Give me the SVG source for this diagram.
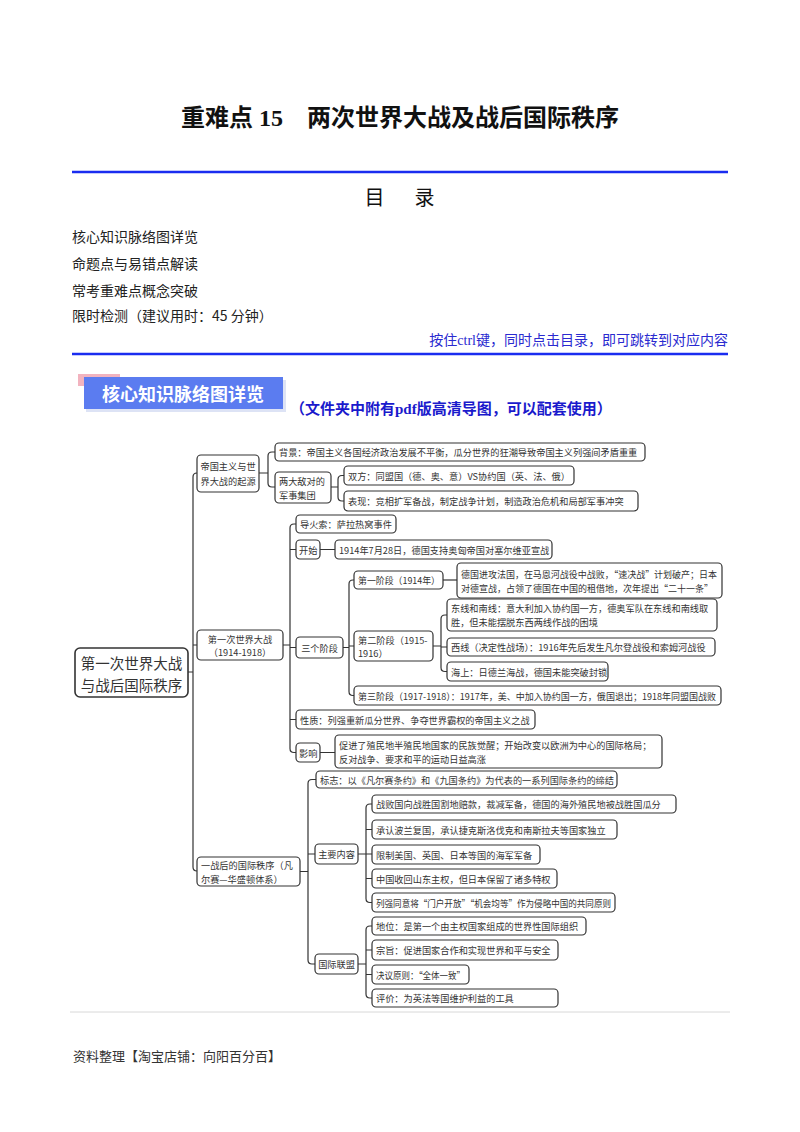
<svg xmlns="http://www.w3.org/2000/svg" width="800" height="1132" viewBox="0 0 800 1132">
<style>
.n{fill:#fff;stroke:#333;stroke-width:1.2}
.t{font-family:"Noto Sans CJK SC",sans-serif;font-size:9.2px;fill:#333;dominant-baseline:central}
.tc{text-anchor:middle}
.c{fill:none;stroke:#333;stroke-width:1.2}
.toc{font-family:"Noto Sans CJK SC",sans-serif;font-size:14px;fill:#222}
.rule{stroke:#1a2cf0;stroke-width:2.5}
</style>
<rect width="800" height="1132" fill="#fff"/>
<g id="header">
<text x="400" y="126" text-anchor="middle" style="font-family:'Liberation Serif','Noto Sans CJK SC',serif;font-size:24px;font-weight:bold;fill:#111">重难点 15　两次世界大战及战后国际秩序</text>
<line class="rule" x1="72" y1="172" x2="728" y2="172"/>
<text x="402" y="205" text-anchor="middle" style="font-family:'Noto Sans CJK SC',sans-serif;font-size:20px;fill:#111;letter-spacing:5px">目　录</text>
<text class="toc" x="72" y="242">核心知识脉络图详览</text>
<text class="toc" x="72" y="269">命题点与易错点解读</text>
<text class="toc" x="72" y="296">常考重难点概念突破</text>
<text class="toc" x="72" y="321">限时检测（建议用时：45 分钟）</text>
<text x="728" y="345" text-anchor="end" style="font-family:'Liberation Serif','Noto Sans CJK SC',serif;font-size:14px;fill:#2a2ad0">按住ctrl键，同时点击目录，即可跳转到对应内容</text>
<line class="rule" x1="72" y1="354" x2="728" y2="354"/>
</g>
<g id="banner">
<rect x="78" y="374" width="42" height="12" fill="#f2b3bf"/>
<rect x="86" y="380" width="200" height="32" fill="#dde3f5"/>
<rect x="84" y="377" width="199" height="32" fill="#5b7cf0"/>
<text x="183" y="393" text-anchor="middle" dominant-baseline="central" style="font-family:'Noto Sans CJK SC',sans-serif;font-size:18px;font-weight:bold;fill:#fff">核心知识脉络图详览</text>
<text x="290" y="414" style="font-family:'Liberation Serif','Noto Sans CJK SC',serif;font-size:15px;font-weight:bold;fill:#1a1acc">（文件夹中附有pdf版高清导图，可以配套使用）</text>
</g>
<g id="connectors">
<path class="c" d="M188,672 H193 M197,473 Q193,473 193,477 V867 Q193,871 197,871 M193,645 H197"/>
<path class="c" d="M259,473 H268 M275,452 H272 Q268,452 268,456 V483 Q268,487 272,487 H275"/>
<path class="c" d="M331,487 H338 M344,475.5 H342 Q338,475.5 338,479.5 V497 Q338,501 342,501 H344"/>
<path class="c" d="M283,645 H290 M296,524 H294 Q290,524 290,528 V748.5 Q290,752.5 294,752.5 H296 M290,549.5 H296 M290,647.5 H296 M290,719.5 H296"/>
<path class="c" d="M320,549.5 H335 M320,752.5 H335"/>
<path class="c" d="M343,647.5 H349 M354,580 H353 Q349,580 349,584 V691.5 Q349,695.5 353,695.5 H354 M349,646 H354"/>
<path class="c" d="M443,580 H457"/>
<path class="c" d="M433,646 H441 M447,615 H445 Q441,615 441,619 V667.5 Q441,671.5 445,671.5 H447 M441,647 H447"/>
<path class="c" d="M300,871.5 H308 M316,779.5 H312 Q308,779.5 308,783.5 V960 Q308,964 312,964 H315 M308,854 H315"/>
<path class="c" d="M358,854 H372 M372,804 H370 Q366,804 366,808 V898.5 Q366,902.5 370,902.5 H372 M366,829.5 H372 M366,878.5 H372"/>
<path class="c" d="M358,964 H366 M372,926 H370 Q366,926 366,930 V994 Q366,998 370,998 H372 M366,950 H372 M366,974.5 H372"/>
</g>
<g id="root">
<rect class="n" x="75" y="648" width="113" height="49" rx="5" style="stroke-width:1.6"/>
<text class="t tc" x="131.5" y="662" style="font-size:14.5px">第一次世界大战</text>
<text class="t tc" x="131.5" y="684" style="font-size:14.5px">与战后国际秩序</text>
</g>
<g id="nodeA">
<rect class="n" x="197" y="455" width="62" height="37" rx="4"/>
<text class="t" x="200.5" y="466">帝国主义与世</text>
<text class="t" x="200.5" y="481">界大战的起源</text>
</g>
<g id="nodeA1">
<rect class="n" x="275" y="443" width="370" height="18" rx="4"/>
<text class="t" x="279" y="452">背景：帝国主义各国经济政治发展不平衡，瓜分世界的狂潮导致帝国主义列强间矛盾重重</text>
</g>
<g id="nodeA2">
<rect class="n" x="275" y="472" width="56" height="31" rx="4"/>
<text class="t" x="279" y="481">两大敌对的</text>
<text class="t" x="279" y="495">军事集团</text>
</g>
<g id="nodeA2a">
<rect class="n" x="344" y="466" width="230" height="19" rx="4"/>
<text class="t" x="348" y="475.5">双方：同盟国（德、奥、意）VS协约国（英、法、俄）</text>
</g>
<g id="nodeA2b">
<rect class="n" x="344" y="491" width="294" height="20" rx="4"/>
<text class="t" x="348" y="501">表现：竞相扩军备战，制定战争计划，制造政治危机和局部军事冲突</text>
</g>
<g id="nodeB">
<rect class="n" x="197" y="630" width="86" height="30" rx="4"/>
<text class="t tc" x="240" y="638.5">第一次世界大战</text>
<text class="t tc" x="240" y="652">（1914-1918）</text>
</g>
<g id="nodeB1">
<rect class="n" x="296" y="515" width="100" height="18" rx="4"/>
<text class="t" x="300" y="524">导火索：萨拉热窝事件</text>
</g>
<g id="nodeB2">
<rect class="n" x="296" y="540" width="24" height="19" rx="4"/>
<text class="t" x="299" y="549.5">开始</text>
</g>
<g id="nodeB2a">
<rect class="n" x="335" y="540" width="217" height="19" rx="4"/>
<text class="t" x="339" y="549.5">1914年7月28日，德国支持奥匈帝国对塞尔维亚宣战</text>
</g>
<g id="nodeB3">
<rect class="n" x="296" y="637" width="47" height="21" rx="4"/>
<text class="t tc" x="319.5" y="647.5">三个阶段</text>
</g>
<g id="nodeB3a">
<rect class="n" x="354" y="571" width="89" height="18" rx="4"/>
<text class="t" x="358" y="580" textLength="82" lengthAdjust="spacingAndGlyphs">第一阶段（1914年）</text>
</g>
<g id="nodeB3a1">
<rect class="n" x="457" y="563" width="265" height="35" rx="4"/>
<text class="t" x="461" y="573.5" textLength="256" lengthAdjust="spacingAndGlyphs">德国进攻法国，在马恩河战役中战败，“速决战”计划破产；日本</text>
<text class="t" x="461" y="588" textLength="252" lengthAdjust="spacingAndGlyphs">对德宣战，占领了德国在中国的租借地，次年提出“二十一条”</text>
</g>
<g id="nodeB3b">
<rect class="n" x="354" y="631" width="79" height="30" rx="4"/>
<text class="t" x="358" y="639.5">第二阶段（1915-</text>
<text class="t" x="358" y="653">1916）</text>
</g>
<g id="nodeB3b1">
<rect class="n" x="447" y="599" width="270" height="32" rx="4"/>
<text class="t" x="451" y="608">东线和南线：意大利加入协约国一方，德奥军队在东线和南线取</text>
<text class="t" x="451" y="622">胜，但未能摆脱东西两线作战的困境</text>
</g>
<g id="nodeB3b2">
<rect class="n" x="447" y="638" width="268" height="18" rx="4"/>
<text class="t" x="451" y="647">西线（决定性战场）：1916年先后发生凡尔登战役和索姆河战役</text>
</g>
<g id="nodeB3b3">
<rect class="n" x="447" y="662" width="161" height="19" rx="4"/>
<text class="t" x="451" y="671.5">海上：日德兰海战，德国未能突破封锁</text>
</g>
<g id="nodeB3c">
<rect class="n" x="354" y="686" width="367" height="19" rx="4"/>
<text class="t" x="358" y="695.5" textLength="358" lengthAdjust="spacingAndGlyphs">第三阶段（1917-1918）：1917年，美、中加入协约国一方，俄国退出；1918年同盟国战败</text>
</g>
<g id="nodeB4">
<rect class="n" x="296" y="710" width="239" height="19" rx="4"/>
<text class="t" x="300" y="719.5">性质：列强重新瓜分世界、争夺世界霸权的帝国主义之战</text>
</g>
<g id="nodeB5">
<rect class="n" x="296" y="743" width="24" height="19" rx="4"/>
<text class="t" x="299" y="752.5">影响</text>
</g>
<g id="nodeB5a">
<rect class="n" x="335" y="735" width="327" height="33" rx="4"/>
<text class="t" x="339" y="744.5">促进了殖民地半殖民地国家的民族觉醒；开始改变以欧洲为中心的国际格局；</text>
<text class="t" x="339" y="758.5">反对战争、要求和平的运动日益高涨</text>
</g>
<g id="nodeC">
<rect class="n" x="197" y="857" width="103" height="29" rx="4"/>
<text class="t" x="201" y="865">一战后的国际秩序（凡</text>
<text class="t" x="201" y="878.5">尔赛—华盛顿体系）</text>
</g>
<g id="nodeC1">
<rect class="n" x="316" y="771" width="301" height="17" rx="4"/>
<text class="t" x="320" y="779.5">标志：以《凡尔赛条约》和《九国条约》为代表的一系列国际条约的缔结</text>
</g>
<g id="nodeC2">
<rect class="n" x="315" y="844" width="43" height="20" rx="4"/>
<text class="t tc" x="336.5" y="854">主要内容</text>
</g>
<g id="nodeC2a">
<rect class="n" x="372" y="795" width="304" height="18" rx="4"/>
<text class="t" x="376" y="804">战败国向战胜国割地赔款，裁减军备，德国的海外殖民地被战胜国瓜分</text>
</g>
<g id="nodeC2b">
<rect class="n" x="372" y="820" width="245" height="19" rx="4"/>
<text class="t" x="376" y="829.5">承认波兰复国，承认捷克斯洛伐克和南斯拉夫等国家独立</text>
</g>
<g id="nodeC2c">
<rect class="n" x="372" y="845" width="168" height="19" rx="4"/>
<text class="t" x="376" y="854.5">限制美国、英国、日本等国的海军军备</text>
</g>
<g id="nodeC2d">
<rect class="n" x="372" y="869" width="185" height="19" rx="4"/>
<text class="t" x="376" y="878.5">中国收回山东主权，但日本保留了诸多特权</text>
</g>
<g id="nodeC2e">
<rect class="n" x="372" y="893" width="243" height="19" rx="4"/>
<text class="t" x="376" y="902.5" textLength="235" lengthAdjust="spacingAndGlyphs">列强同意将“门户开放”“机会均等”作为侵略中国的共同原则</text>
</g>
<g id="nodeC3">
<rect class="n" x="315" y="954" width="43" height="20" rx="4"/>
<text class="t tc" x="336.5" y="964">国际联盟</text>
</g>
<g id="nodeC3a">
<rect class="n" x="372" y="917" width="214" height="18" rx="4"/>
<text class="t" x="376" y="926">地位：是第一个由主权国家组成的世界性国际组织</text>
</g>
<g id="nodeC3b">
<rect class="n" x="372" y="940" width="186" height="20" rx="4"/>
<text class="t" x="376" y="950">宗旨：促进国家合作和实现世界和平与安全</text>
</g>
<g id="nodeC3c">
<rect class="n" x="372" y="965" width="97" height="19" rx="4"/>
<text class="t" x="376" y="974.5" textLength="89" lengthAdjust="spacingAndGlyphs">决议原则：“全体一致”</text>
</g>
<g id="nodeC3d">
<rect class="n" x="372" y="989" width="186" height="18" rx="4"/>
<text class="t" x="376" y="998">评价：为英法等国维护利益的工具</text>
</g>
<g id="footer">
<line x1="70" y1="1012" x2="730" y2="1012" stroke="#d8d8d8" stroke-width="1"/>
<text x="73" y="1061" style="font-family:'Liberation Serif','Noto Sans CJK SC',serif;font-size:13px;fill:#333">资料整理【淘宝店铺：向阳百分百】</text>
</g>
</svg>
